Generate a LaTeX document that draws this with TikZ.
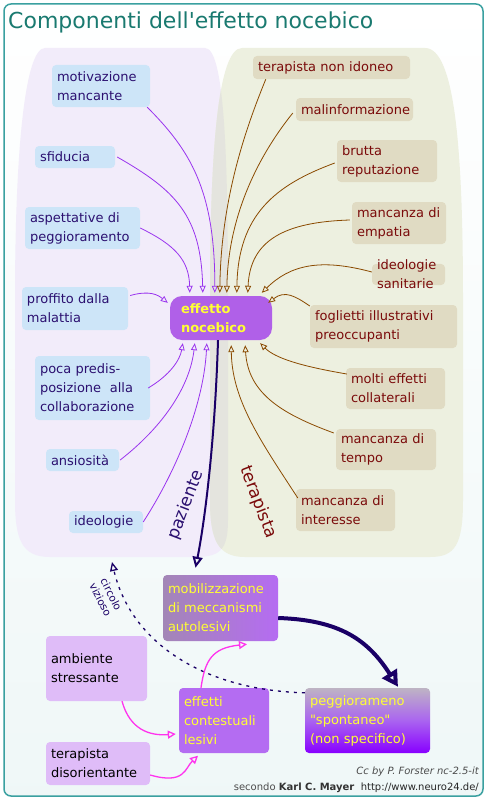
\documentclass[tikz,border=0pt]{standalone}
\usepackage{fontspec}
\setmainfont{DejaVu Sans}
\usetikzlibrary{arrows.meta}
\definecolor{frameC}{HTML}{3AA0A0}
\definecolor{titleC}{HTML}{1A7A70}
\definecolor{blobL}{HTML}{F2ECFA}
\definecolor{blobR}{HTML}{EDF0E0}
\definecolor{blobO}{HTML}{E4E4DE}
\definecolor{pblue}{HTML}{CDE5F8}
\definecolor{pnavy}{HTML}{2B1070}
\definecolor{ttan}{HTML}{E0DBC3}
\definecolor{tred}{HTML}{7A0A0A}
\definecolor{ppurp}{HTML}{9933EE}
\definecolor{tbrown}{HTML}{8A4A00}
\definecolor{navyC}{HTML}{1A0066}
\definecolor{magC}{HTML}{FF33EE}
\definecolor{cpurp}{HTML}{B060E8}
\definecolor{yelC}{HTML}{FFFF33}
\definecolor{lavC}{HTML}{DFBCF8}
\definecolor{effC}{HTML}{B46CF2}
\definecolor{mobL}{RGB}{163,134,182}
\definecolor{mobR}{RGB}{181,108,242}
\definecolor{pegT}{RGB}{190,180,196}
\definecolor{pegM}{RGB}{170,100,240}
\definecolor{pegB}{RGB}{136,0,255}
\newcommand\fsn{\fontsize{13}{19}\selectfont}
\tikzset{
  boxbase/.style={rounded corners=4pt, align=left, inner xsep=5pt, inner ysep=4pt, font=\fsn},
  pbox/.style={boxbase, fill=pblue, text=pnavy},
  tbox/.style={boxbase, fill=ttan, text=tred},
  bbox/.style={boxbase, text=yelC},
  lbox/.style={boxbase, fill=lavC, text=black},
  parr/.style={draw=ppurp, line width=0.8pt, -{Triangle[open, length=7pt, width=6pt]}},
  tarr/.style={draw=tbrown, line width=0.8pt, -{Triangle[open, length=7pt, width=6pt]}},
  marr/.style={draw=magC, line width=1.3pt, -{Triangle[open, length=8pt, width=8pt]}},
}
\begin{document}
\begin{tikzpicture}[x=1pt,y=-1pt]
\useasboundingbox (0,0) rectangle (487,800);
\fill[white] (0,0) rectangle (487,800);
\shade[top color=white, bottom color=frameC!8, rounded corners=7pt] (4,4) rectangle (483,796);
\draw[frameC, line width=1.5pt, rounded corners=7pt] (4,4) rectangle (483,796);
\node[anchor=west, text=titleC, font=\fontsize{22}{26}\selectfont, inner sep=0pt] (title) at (8,22) {Componenti dell\textquotesingle effetto nocebico};
% blobs
\def\blobleft{(45,48) -- (205,48) .. controls (224,48) and (228,150) .. (228,300) -- (228,520) .. controls (228,550) and (220,557) .. (195,557) -- (50,557) .. controls (22,557) and (15,540) .. (15,500) -- (15,300) .. controls (15,150) and (25,48) .. (45,48) -- cycle}
\def\blobright{(242,48) -- (425,48) .. controls (455,48) and (463,150) .. (463,300) -- (463,500) .. controls (463,545) and (455,557) .. (430,557) -- (245,557) .. controls (218,557) and (210,540) .. (210,500) -- (210,300) .. controls (210,150) and (218,48) .. (242,48) -- cycle}
\fill[blobL] \blobleft;
\fill[blobR] \blobright;
\begin{scope}
\clip \blobleft;
\fill[blobO] \blobright;
\end{scope}
% patient nodes
\node[pbox, text width=88pt, minimum height=42] (mot) at (101,86) {motivazione\\mancante};
\node[pbox, text width=70pt, minimum height=22, inner ysep=3pt] (sfi) at (75,157) {sfiducia};
\node[pbox, text width=105pt, minimum height=42] (asp) at (82.5,228) {aspettative~di\\peggioramento};
\node[pbox, text width=96pt, minimum height=43] (pro) at (75,308.5) {proffito~dalla\\malattia};
\node[pbox, text width=105pt, minimum height=64] (poc) at (92.5,388) {poca~predis-\\posizione~~alla\\collaborazione};
\node[pbox, text width=63pt, minimum height=22, inner ysep=3pt] (ans) at (82.5,460) {ansiosità};
\node[pbox, text width=64pt, minimum height=22, inner ysep=3pt] (ide) at (106,522) {ideologie};
% center
\node[fill=cpurp, rounded corners=12pt, text=yelC, font=\fsn\bfseries, align=left, text width=80pt, minimum height=44, inner xsep=11pt, inner ysep=3pt] (c) at (221,318) {effetto\\nocebico};
% therapist nodes
\node[tbox, text width=147pt, minimum height=23, inner ysep=3pt] (ter) at (331.5,67.5) {terapista~non~idoneo};
\node[tbox, text width=107pt, minimum height=23, inner ysep=3pt] (mal) at (354.5,109.5) {malinformazione};
\node[tbox, text width=90pt, minimum height=42] (bru) at (387,161) {brutta\\reputazione};
\node[tbox, text width=84pt, minimum height=42] (emp) at (399,223) {mancanza~di\\empatia};
\node[tbox, text width=63pt, minimum height=0, inner ysep=-4pt] (ids) at (408.5,274.5) {ideologie\\sanitarie};
\node[tbox, text width=137pt, minimum height=43] (fog) at (383.5,326.5) {foglietti~illustrativi\\preoccupanti};
\node[tbox, text width=89pt, minimum height=41] (mol) at (395.5,388.5) {molti~effetti\\collaterali};
\node[tbox, text width=90pt, minimum height=41] (tem) at (386,449.5) {mancanza~di\\tempo};
\node[tbox, text width=89pt, minimum height=42] (int) at (345.5,510) {mancanza~di\\interesse};
% arrows patient
\draw[parr] ([xshift=-3pt]mot.south east) .. controls (190,150) and (215,190) .. ([xshift=45pt,yshift=3pt]c.north west);
\draw[parr] ([xshift=2pt]sfi.east) .. controls (175,190) and (201,215) .. ([xshift=33pt,yshift=3pt]c.north west);
\draw[parr] (asp.east) .. controls (175,245) and (189,260) .. ([xshift=20pt,yshift=3pt]c.north west);
\draw[parr] ([xshift=2pt,yshift=13pt]pro.east) .. controls (150,290) and (158,295) .. ([xshift=-2pt,yshift=-7pt]c.north west);
\draw[parr] ([xshift=-2pt]poc.east) .. controls (170,375) and (180,360) .. ([xshift=13pt,yshift=-3pt]c.south west);
\draw[parr] ([xshift=1pt]ans.east) .. controls (165,425) and (190,385) .. ([xshift=25pt,yshift=-3pt]c.south west);
\draw[parr] (ide.east) .. controls (180,465) and (204,400) .. ([xshift=37pt,yshift=-3pt]c.south west);
% arrows therapist
\draw[tarr] ([xshift=13pt]ter.south west) .. controls (245,130) and (221,200) .. ([xshift=50pt,yshift=3pt]c.north west);
\draw[tarr] ([xshift=-3pt,yshift=-3.5pt]mal.west) .. controls (255,160) and (228,220) .. ([xshift=57pt,yshift=3pt]c.north west);
\draw[tarr] ([xshift=-2pt,yshift=-2pt]bru.west) .. controls (275,185) and (238,215) .. ([xshift=67pt,yshift=3pt]c.north west);
\draw[tarr] ([xshift=-2pt,yshift=3pt]emp.west) .. controls (285,222) and (250,240) .. ([xshift=78pt,yshift=3pt]c.north west);
\draw[tarr] ([yshift=2.5pt]ids.west) .. controls (320,258) and (290,265) .. ([xshift=92pt,yshift=3pt]c.north west);
\draw[tarr] ([yshift=20.5pt]fog.west) .. controls (295,296) and (285,290) .. ([xshift=-4pt,yshift=-7pt]c.north east);
\draw[tarr] ([xshift=1pt,yshift=14.5pt]mol.west) .. controls (300,366) and (275,358) .. ([xshift=-12pt,yshift=-3pt]c.south east);
\draw[tarr] ([xshift=-2pt,yshift=16.5pt]tem.west) .. controls (285,415) and (248,395) .. ([xshift=-27pt,yshift=-5pt]c.south east);
\draw[tarr] ([xshift=2pt,yshift=12pt]int.west) .. controls (260,440) and (232,400) .. ([xshift=-41pt,yshift=-5pt]c.south east);
% side labels
\node[text=pnavy, font=\fontsize{17}{20}\selectfont, rotate=69] (lpaz) at (186,505) {paziente};
\node[text=tred, font=\fontsize{17}{20}\selectfont, rotate=-69] (lter) at (258,502) {terapista};
% bottom nodes
\node[bbox, left color=mobL, right color=mobR, text width=105pt, minimum height=66] (mob) at (220.5,608) {mobilizzazione\\di~meccanismi\\autolesivi};
\node[bbox, fill=effC, text width=80pt, minimum height=65] (eff) at (224,720.5) {effetti\\contestuali\\lesivi};
\node[bbox, top color=pegT, bottom color=pegB, middle color=pegM, text width=115pt, minimum height=65] (peg) at (367.5,720.5) {peggiorameno\\\textquotedbl spontaneo\textquotedbl\\(non~specifico)};
\node[lbox, text width=91pt, minimum height=65] (amb) at (96.5,668.5) {ambiente\\stressante};
\node[lbox, text width=94pt, minimum height=43] (tdi) at (98,763.5) {terapista\\disorientante};
% bottom arrows
\draw[navyC, line width=2pt, -{Triangle[open, length=11pt, width=10pt]}] ([xshift=-3pt]c.south) .. controls (215,440) and (205,520) .. ([xshift=-25pt,yshift=7pt]mob.north);
\draw[navyC, line width=4pt, -{Triangle[open, length=16pt, width=17pt]}] ([yshift=-10pt]mob.east) .. controls (340,620) and (368,640) .. ([xshift=30.5pt,yshift=1pt]peg.north);
\coordinate (vc) at (112,562);
\draw[navyC, line width=1.3pt, dash pattern=on 3pt off 5pt, -{Triangle[open, length=9pt, width=8pt]}] ([yshift=-5pt]peg.north west) .. controls (200,690) and (130,640) .. (vc);
\node[text=navyC, font=\fontsize{10.5}{12}\selectfont, rotate=-63, align=center, inner sep=1pt] (lcv) at (106,597) {circolo\\vizioso};
\draw[marr] ([xshift=25.5pt]amb.south) .. controls (130,730) and (150,736) .. ([xshift=-3pt,yshift=-13.5pt]eff.west);
\draw[marr] ([yshift=-11.5pt]tdi.east) .. controls (185,785) and (185,768) .. ([xshift=-26pt,yshift=-2.5pt]eff.south);
\draw[marr] ([xshift=-23pt]eff.north) .. controls (205,660) and (212,648) .. ([xshift=26.5pt,yshift=-3pt]mob.south);
% credits
\node[anchor=east, text=black!70, font=\fontsize{10}{12}\selectfont\itshape, inner sep=0pt] (cr1) at (479,772) {Cc by P. Forster nc-2.5-it};
\node[anchor=east, text=black!70, font=\fontsize{10}{12}\selectfont, inner sep=0pt] (cr2) at (479,788) {secondo \textbf{\textcolor{black!80}{Karl C. Mayer}}\ \ \textcolor{black!85}{http://www.neuro24.de/}};
\end{tikzpicture}
\end{document}
